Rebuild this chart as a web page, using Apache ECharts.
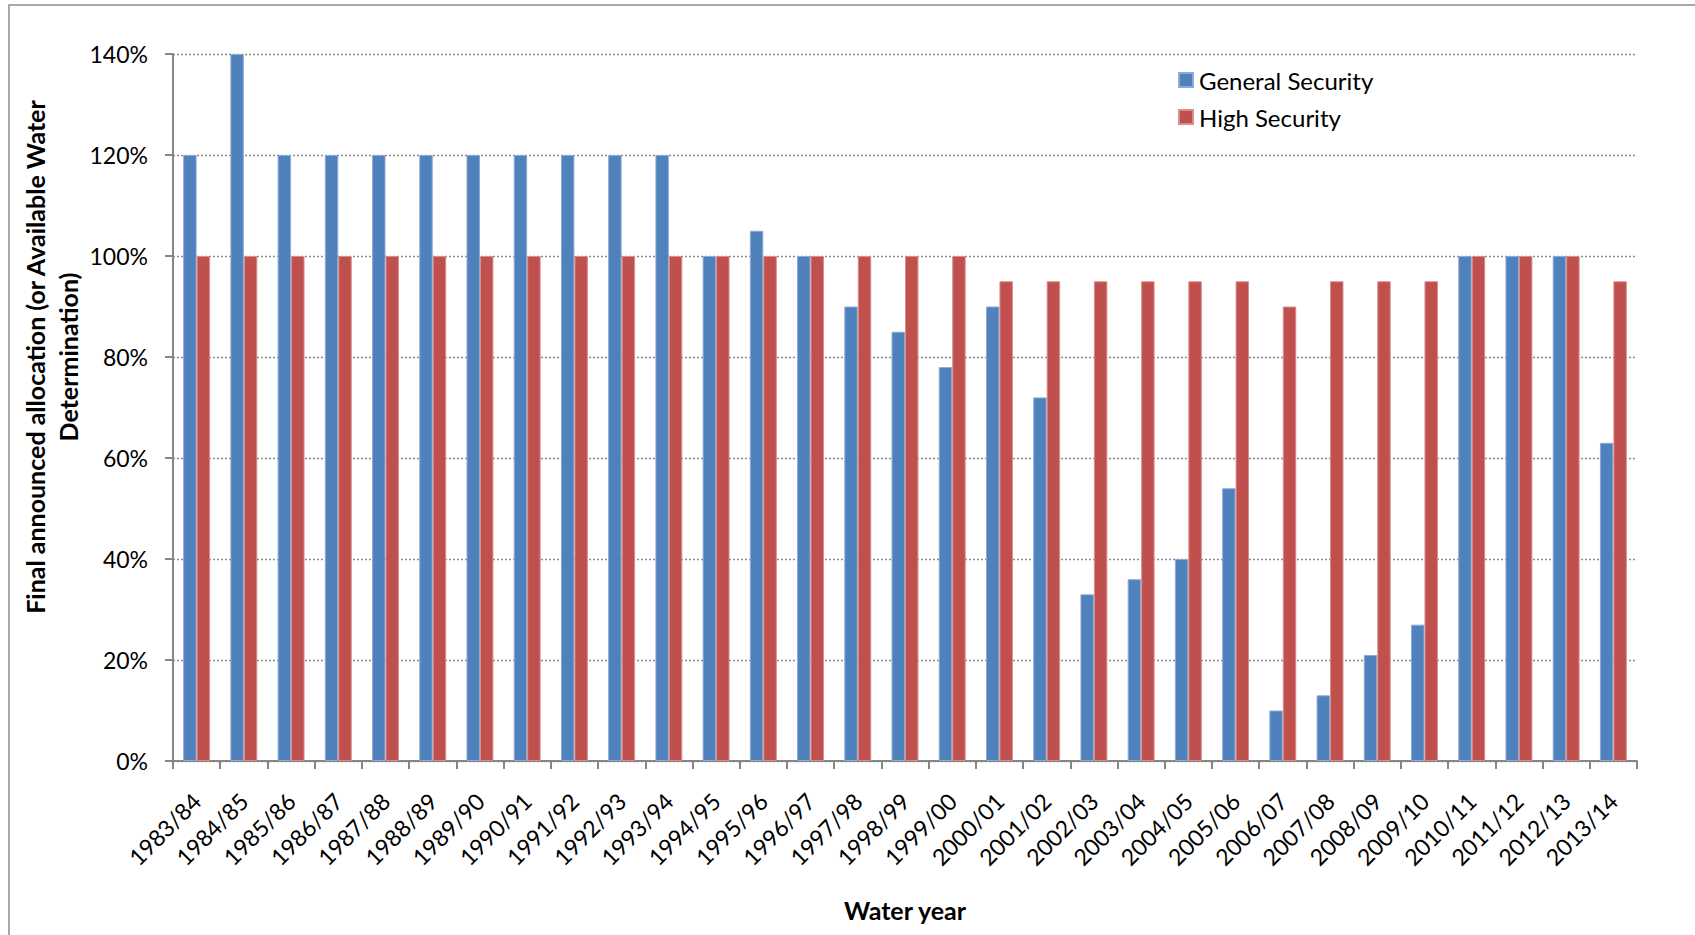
<!DOCTYPE html>
<html>
<head>
<meta charset="utf-8">
<script src="https://cdn.jsdelivr.net/npm/echarts@6/dist/echarts.min.js"></script>
<style>
  html, body { margin: 0; padding: 0; background: #fff; }
  #chart { width: 1695px; height: 935px; }
</style>
</head>
<body>
<div id="chart"></div>
<script>
// Water years
const waterYears = [
  '1983/84', '1984/85', '1985/86', '1986/87', '1987/88', '1988/89', '1989/90',
  '1990/91', '1991/92', '1992/93', '1993/94', '1994/95', '1995/96', '1996/97',
  '1997/98', '1998/99', '1999/00', '2000/01', '2001/02', '2002/03', '2003/04',
  '2004/05', '2005/06', '2006/07', '2007/08', '2008/09', '2009/10', '2010/11',
  '2011/12', '2012/13', '2013/14'
];

// Final announced allocation, percent
const generalSecurity = [
  120, 140, 120, 120, 120, 120, 120, 120, 120, 120, 120, 100, 105, 100,
  90, 85, 78, 90, 72, 33, 36, 40, 54, 10, 13, 21, 27, 100, 100, 100, 63
];
const highSecurity = [
  100, 100, 100, 100, 100, 100, 100, 100, 100, 100, 100, 100, 100, 100,
  100, 100, 100, 95, 95, 95, 95, 95, 95, 90, 95, 95, 95, 100, 100, 100, 95
];

const seriesNames = ['General Security', 'High Security'];
const xTitle = 'Water year';
const yTitle = 'Final announced allocation (or Available Water\nDetermination)';

const FONT = 'Lato, "Open Sans", sans-serif';
const AXIS_GREY = '#868686';

const chart = echarts.init(document.getElementById('chart'), null, { renderer: 'svg' });

chart.setOption({
  animation: false,
  backgroundColor: '#ffffff',
  textStyle: { fontFamily: FONT, color: '#000' },
  grid: { left: 173, right: 58, top: 54, bottom: 174, containLabel: false },
  legend: {
    orient: 'vertical',
    left: 1173,
    top: 63,
    itemWidth: 14,
    itemHeight: 14,
    itemGap: 13,
    icon: 'rect',
    textStyle: { fontFamily: FONT, fontSize: 24, color: '#000', padding: [0, 0, 0, 1] },
    data: seriesNames
  },
  xAxis: {
    type: 'category',
    data: waterYears,
    boundaryGap: true,
    axisLine: { lineStyle: { color: AXIS_GREY, width: 2 } },
    axisTick: { show: true, alignWithLabel: false, length: 8, lineStyle: { color: AXIS_GREY, width: 2 } },
    axisLabel: {
      interval: 0,
      rotate: 45,
      margin: 36,
      fontFamily: FONT,
      fontSize: 23,
      color: '#000'
    },
    name: xTitle,
    nameLocation: 'middle',
    nameGap: 136,
    nameTextStyle: { fontFamily: FONT, fontSize: 25, fontWeight: 'bold', color: '#000' }
  },
  yAxis: {
    type: 'value',
    min: 0,
    max: 140,
    interval: 20,
    axisLine: { show: true, lineStyle: { color: AXIS_GREY, width: 2 } },
    axisTick: { show: true, length: 8, lineStyle: { color: AXIS_GREY, width: 2 } },
    axisLabel: {
      margin: 25,
      fontFamily: FONT,
      fontSize: 23,
      color: '#000',
      formatter: v => v + '%'
    },
    splitLine: {
      show: true,
      lineStyle: { color: '#8a8a8a', width: 1.3, type: [2, 2] }
    }
  },
  series: [
    {
      name: seriesNames[0],
      type: 'bar',
      data: generalSecurity,
      barWidth: '28.5%',
      barGap: '0%',
      itemStyle: { color: '#4F81BD', borderColor: '#8FAAD3', borderWidth: 1 }
    },
    {
      name: seriesNames[1],
      type: 'bar',
      data: highSecurity,
      barWidth: '28.5%',
      barGap: '0%',
      itemStyle: { color: '#C0504D', borderColor: '#D88E8C', borderWidth: 1 }
    }
  ],
  graphic: [
    {
      // chart frame
      type: 'rect',
      shape: { x: 9, y: 5, width: 1720, height: 980 },
      style: { fill: 'none', stroke: '#8c8c8c', lineWidth: 1.5 },
      silent: true,
      z: -1
    },
    {
      type: 'text',
      x: 51,
      y: 357,
      rotation: Math.PI / 2,
      style: {
        text: yTitle,
        fontFamily: FONT,
        fontSize: 25,
        fontWeight: 'bold',
        fill: '#000',
        align: 'center',
        verticalAlign: 'middle',
        lineHeight: 33
      }
    }
  ]
});
</script>
</body>
</html>
